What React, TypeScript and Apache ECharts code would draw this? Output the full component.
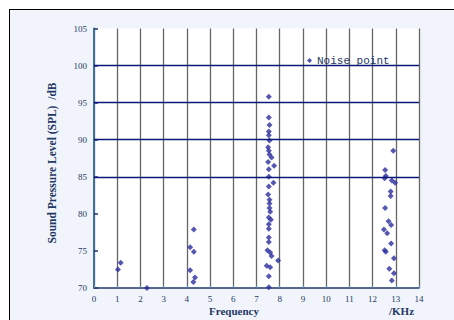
import React, { useEffect, useRef } from "react";
import * as echarts from "echarts";

// Frequency (kHz) and sound pressure level (dB) of each noise point
const noiseFreq: number[] = [
  1.03, 1.15,
  2.28,
  4.3, 4.14, 4.3, 4.14, 4.35, 4.28,
  7.53, 7.53, 7.56, 7.53, 7.53, 7.56, 7.5, 7.53, 7.56, 7.65,
  7.5, 7.76, 7.53, 7.53, 7.73, 7.53, 7.5, 7.56, 7.56, 7.56,
  7.59, 7.53, 7.62, 7.53, 7.53, 7.53, 7.53, 7.47, 7.59, 7.65,
  7.93, 7.44, 7.59, 7.53, 7.53,
  12.89, 12.54, 12.57, 12.52, 12.83, 12.97, 12.78, 12.78, 12.54, 12.69,
  12.8, 12.49, 12.63, 12.8, 12.52, 12.57, 12.92, 12.72, 12.92, 12.83,
];
const noiseSpl: number[] = [
  72.5, 73.4,
  70.0,
  77.9, 75.5, 74.9, 72.4, 71.4, 70.8,
  95.8, 93.0, 92.0, 91.1, 90.6, 89.9, 89.0, 88.5, 88.0, 87.6,
  87.0, 86.5, 86.0, 85.0, 84.2, 83.7, 82.6, 81.9, 81.4, 80.8,
  80.3, 79.5, 79.2, 78.6, 78.0, 76.8, 76.2, 75.1, 74.8, 74.3,
  73.7, 73.0, 72.8, 71.6, 70.1,
  88.5, 85.9, 85.1, 84.8, 84.5, 84.2, 83.0, 82.4, 80.8, 79.0,
  78.5, 77.9, 77.4, 76.0, 75.1, 74.9, 74.0, 72.6, 72.0, 71.0,
];
const gridLevels: number[] = [85, 90, 95, 100];
const seriesName = "Noise point";
const yTitle = "Sound Pressure Level (SPL)  /dB";
const xTitle = "Frequency";
const xUnit = "/KHz";

export default function App() {
  const ref = useRef<HTMLDivElement>(null);
  useEffect(() => {
    if (!ref.current) return;
    const chart = echarts.init(ref.current, undefined, { renderer: "svg" });
    const labelColor = "#1f3864";
    chart.setOption({
      animation: false,
      grid: {
        left: 94,
        right: 35,
        top: 28.5,
        bottom: 32,
        show: true,
        backgroundColor: "#ffffff",
        borderWidth: 0,
      },
      legend: {
        left: 302,
        top: 50,
        icon: "diamond",
        itemWidth: 5,
        itemHeight: 5,
        data: [seriesName],
        textStyle: {
          fontFamily: "Liberation Mono",
          fontSize: 11,
          color: labelColor,
        },
      },
      xAxis: {
        type: "value",
        min: 0,
        max: 14,
        interval: 1,
        axisLine: { show: true, lineStyle: { color: "#1f3a6a", width: 1.5 } },
        axisTick: { show: true, inside: true, length: 3, lineStyle: { color: "#5b86b8" } },
        axisLabel: {
          color: labelColor,
          fontFamily: "Liberation Serif",
          fontSize: 9,
          margin: 6,
        },
        splitLine: { show: true, lineStyle: { color: "#666666", width: 1.3 } },
      },
      yAxis: {
        type: "value",
        min: 70,
        max: 105,
        interval: 5,
        axisLine: { show: true, lineStyle: { color: "#3f6fa0", width: 2 } },
        axisTick: { show: true, inside: true, length: 4, lineStyle: { color: "#1f3a6a", width: 1.5 } },
        axisLabel: {
          color: labelColor,
          fontFamily: "Liberation Serif",
          fontSize: 9,
          margin: 7,
        },
        splitLine: { show: false },
      },
      graphic: [
        {
          type: "text",
          x: 52,
          y: 163,
          rotation: Math.PI / 2,
          style: {
            text: yTitle,
            fill: labelColor,
            font: "bold 11.5px 'Liberation Serif'",
            align: "center",
            verticalAlign: "middle",
          },
        },
        {
          type: "text",
          left: 209,
          top: 305,
          style: {
            text: xTitle,
            fill: labelColor,
            font: "bold 11px 'Liberation Serif'",
          },
        },
        {
          type: "text",
          left: 389,
          top: 305,
          style: {
            text: xUnit,
            fill: labelColor,
            font: "bold 11px 'Liberation Serif'",
          },
        },
      ],
      series: [
        {
          name: seriesName,
          type: "scatter",
          symbol: "diamond",
          symbolSize: 6,
          itemStyle: { color: "#2a2d9c" },
          data: noiseFreq.map((f, i) => [f, noiseSpl[i]]),
          markLine: {
            silent: true,
            symbol: ["none", "none"],
            label: { show: false },
            lineStyle: { type: "solid", color: "#0b1a78", width: 1.3 },
            data: gridLevels.map((v) => ({ yAxis: v })),
          },
        },
      ],
    });
    return () => chart.dispose();
  }, []);

  return (
    <div
      style={{
        position: "fixed",
        left: 0,
        top: 0,
        width: 454,
        height: 320,
        background: "#ffffff",
      }}
    >
      <div
        style={{
          position: "absolute",
          left: 9,
          top: 9,
          right: 0,
          bottom: 0,
          background: "#f1f5fb",
          borderTop: "1px solid #000",
          borderLeft: "1px solid #000",
        }}
      />
      <div
        ref={ref}
        style={{ position: "absolute", left: 0, top: 0, width: 454, height: 320 }}
      />
    </div>
  );
}
